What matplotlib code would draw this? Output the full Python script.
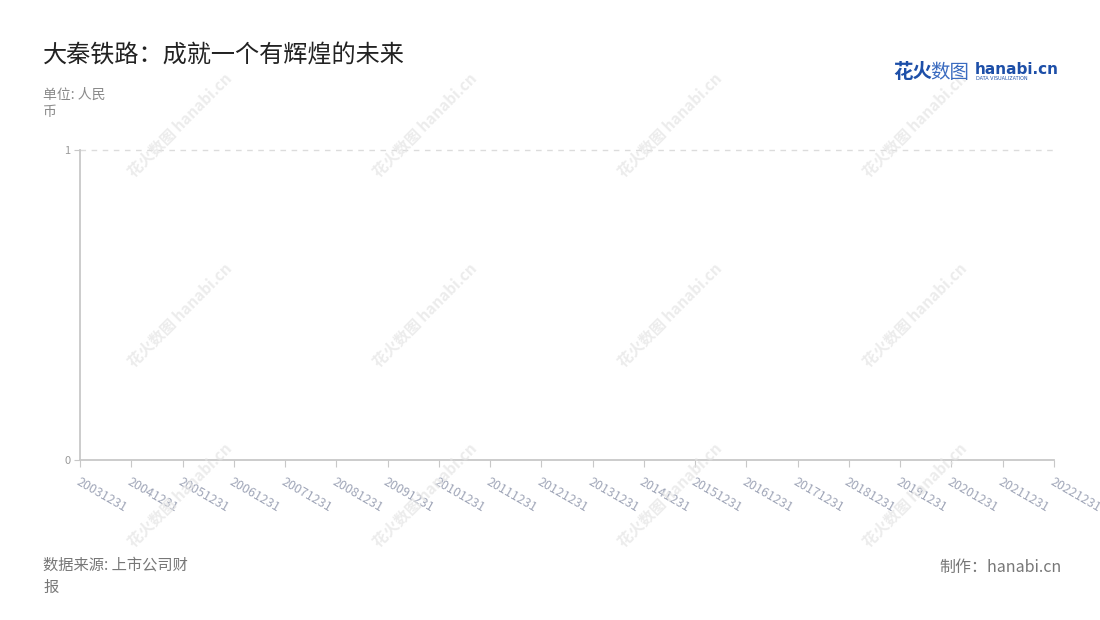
import matplotlib
matplotlib.use('Agg')
import matplotlib.pyplot as plt

plt.rcParams['font.family'] = ['Noto Sans CJK SC', 'DejaVu Sans']

title = '大秦铁路：成就一个有辉煌的未来'
unit = '单位: 人民\n币'
source = '数据来源: 上市公司财\n报'
credit = '制作：hanabi.cn'
dates = ['20031231', '20041231', '20051231', '20061231', '20071231', '20081231',
         '20091231', '20101231', '20111231', '20121231', '20131231', '20141231',
         '20151231', '20161231', '20171231', '20181231', '20191231', '20201231',
         '20211231', '20221231']
values = []  # no data shown in the chart
y_ticks = [0, 1]

W, H = 1100, 620
fig = plt.figure(figsize=(W / 100, H / 100), dpi=100)
ax = fig.add_axes([80 / W, 1 - 460 / H, (1054 - 80) / W, (460 - 150) / H])

x = list(range(len(dates)))
if values:
    ax.plot(x[:len(values)], values, color='#5470c6')

ax.set_xlim(0, len(dates) - 1)
ax.set_ylim(0, 1)
ax.set_yticks(y_ticks)
ax.set_xticks(x)
ax.set_xticklabels(dates, rotation=-30, ha='left', va='top', rotation_mode='anchor',
                   fontsize=9, color='#a0a6b8')
ax.tick_params(axis='x', length=5, color='#c8c8c8', pad=6)
ax.tick_params(axis='y', length=4, color='#c8c8c8', labelsize=8, labelcolor='#9a9a9a', pad=3)
for s in ['top', 'right']:
    ax.spines[s].set_visible(False)
for s in ['left', 'bottom']:
    ax.spines[s].set_color('#c8c8c8')
    ax.spines[s].set_linewidth(1.3)
ax.axhline(1, color='#dcdcdc', linestyle=(0, (4, 4)), linewidth=1, clip_on=False)

# watermarks
for wx in [180, 425, 670, 915]:
    for wy in [125, 315, 495]:
        fig.text(wx / W, 1 - wy / H, '花火数图 hanabi.cn', rotation=45, fontsize=11,
                 color='#e4e4e4', alpha=0.7, ha='center', va='center',
                 fontweight='bold', zorder=0)

fig.text(43 / W, 1 - 55 / H, title, fontsize=17.4, color='#222222', va='center')
fig.text(43 / W, 1 - 88 / H, unit, fontsize=10, color='#8a8a8a', va='top', linespacing=1.3)
fig.text(43 / W, 1 - 557 / H, source, fontsize=11, color='#777777', va='top', linespacing=1.4)
fig.text(1062 / W, 1 - 567 / H, credit, fontsize=11.5, color='#777777', ha='right', va='center')

# logo
fig.text(893 / W, 1 - 72 / H, '花火', fontsize=14, color='#1d4fa8', fontweight='bold', va='center')
fig.text(930 / W, 1 - 72 / H, '数图', fontsize=14, color='#3a6bc0', va='center')
fig.text(975 / W, 1 - 69 / H, 'hanabi.cn', fontsize=11, color='#1d4fa8', fontweight='bold', va='center',
         family='DejaVu Sans')
fig.text(976 / W, 1 - 79 / H, 'DATA VISUALIZATION', fontsize=3.5, color='#1d4fa8', va='center',
         family='DejaVu Sans')

fig.savefig('out.png', dpi=100)
